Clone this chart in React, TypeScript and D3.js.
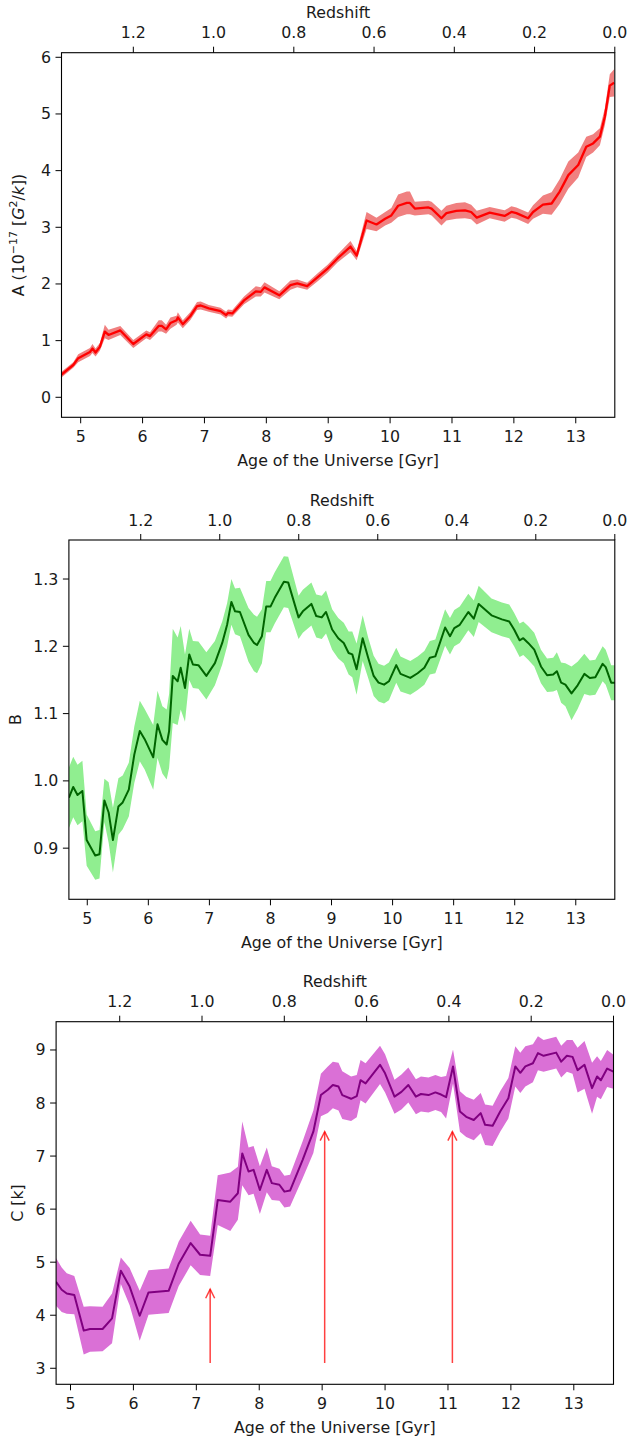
import React from "react";
import * as d3 from "d3";

// ---------- shared ticks ----------
const ageTicks = [5, 6, 7, 8, 9, 10, 11, 12, 13];
const redshiftTicks = [1.2, 1.0, 0.8, 0.6, 0.4, 0.2, 0.0];
const yTicksA = [0, 1, 2, 3, 4, 5, 6];
const yTicksB = [0.9, 1.0, 1.1, 1.2, 1.3];
const yTicksC = [3, 4, 5, 6, 7, 8, 9];

// ---------- panel A ----------
const ageA = [4.69, 4.88, 4.96, 5.15, 5.19, 5.24, 5.31, 5.39, 5.45, 5.64, 5.85, 6.06, 6.12, 6.26, 6.31, 6.38, 6.45, 6.55, 6.57, 6.65, 6.77, 6.88, 6.94, 7.07, 7.26, 7.35, 7.38, 7.45, 7.64, 7.83, 7.91, 7.97, 8.21, 8.39, 8.5, 8.66, 8.83, 8.99, 9.15, 9.36, 9.46, 9.62, 9.78, 9.92, 10.02, 10.13, 10.27, 10.32, 10.4, 10.62, 10.67, 10.83, 10.91, 11.07, 11.21, 11.31, 11.4, 11.61, 11.85, 11.96, 12.04, 12.23, 12.31, 12.47, 12.61, 12.74, 12.88, 13.04, 13.17, 13.28, 13.39, 13.47, 13.55, 13.62];
const meanA = [0.4, 0.57, 0.69, 0.8, 0.86, 0.79, 0.89, 1.16, 1.1, 1.18, 0.94, 1.11, 1.08, 1.26, 1.26, 1.2, 1.31, 1.36, 1.41, 1.29, 1.43, 1.61, 1.62, 1.57, 1.52, 1.45, 1.49, 1.48, 1.71, 1.87, 1.86, 1.94, 1.8, 1.98, 2.01, 1.96, 2.12, 2.27, 2.45, 2.66, 2.5, 3.12, 3.05, 3.15, 3.21, 3.38, 3.43, 3.43, 3.33, 3.35, 3.33, 3.16, 3.25, 3.29, 3.3, 3.27, 3.17, 3.26, 3.2, 3.27, 3.25, 3.16, 3.27, 3.4, 3.42, 3.63, 3.92, 4.1, 4.42, 4.48, 4.6, 4.95, 5.5, 5.55];
const errA = [0.05, 0.05, 0.07, 0.07, 0.08, 0.07, 0.07, 0.12, 0.09, 0.08, 0.07, 0.07, 0.07, 0.1, 0.1, 0.08, 0.1, 0.08, 0.09, 0.07, 0.07, 0.07, 0.07, 0.06, 0.06, 0.06, 0.06, 0.06, 0.07, 0.09, 0.08, 0.09, 0.07, 0.08, 0.07, 0.06, 0.07, 0.07, 0.07, 0.1, 0.08, 0.15, 0.12, 0.12, 0.13, 0.2, 0.2, 0.2, 0.12, 0.12, 0.12, 0.13, 0.13, 0.14, 0.14, 0.13, 0.12, 0.1, 0.1, 0.1, 0.1, 0.1, 0.12, 0.16, 0.2, 0.22, 0.24, 0.22, 0.18, 0.16, 0.15, 0.15, 0.2, 0.24];

// ---------- panel B ----------
const ageB = [4.7, 4.77, 4.84, 4.92, 4.99, 5.13, 5.2, 5.28, 5.35, 5.42, 5.51, 5.58, 5.68, 5.77, 5.86, 5.94, 6.08, 6.15, 6.23, 6.3, 6.34, 6.4, 6.48, 6.53, 6.6, 6.67, 6.73, 6.82, 6.95, 7.09, 7.21, 7.29, 7.36, 7.42, 7.5, 7.64, 7.73, 7.78, 7.86, 7.93, 8.0, 8.07, 8.22, 8.29, 8.46, 8.53, 8.67, 8.75, 8.84, 8.91, 9.01, 9.11, 9.2, 9.28, 9.34, 9.41, 9.51, 9.6, 9.69, 9.77, 9.86, 9.94, 10.06, 10.13, 10.29, 10.41, 10.52, 10.61, 10.7, 10.86, 10.94, 11.01, 11.1, 11.24, 11.33, 11.41, 11.62, 11.79, 11.91, 11.99, 12.08, 12.14, 12.22, 12.32, 12.43, 12.53, 12.63, 12.69, 12.76, 12.83, 12.93, 13.03, 13.14, 13.23, 13.32, 13.44, 13.49, 13.58, 13.64];
const meanB = [0.975, 0.991, 0.979, 0.985, 0.912, 0.889, 0.891, 0.971, 0.953, 0.912, 0.962, 0.968, 0.987, 1.039, 1.074, 1.062, 1.035, 1.084, 1.061, 1.054, 1.074, 1.156, 1.148, 1.168, 1.138, 1.188, 1.173, 1.172, 1.156, 1.175, 1.205, 1.232, 1.266, 1.252, 1.251, 1.217, 1.205, 1.202, 1.215, 1.259, 1.259, 1.272, 1.296, 1.295, 1.243, 1.252, 1.263, 1.245, 1.243, 1.251, 1.225, 1.212, 1.205, 1.19, 1.188, 1.166, 1.212, 1.183, 1.156, 1.146, 1.143, 1.148, 1.172, 1.159, 1.153, 1.16, 1.168, 1.183, 1.185, 1.228, 1.215, 1.227, 1.232, 1.251, 1.241, 1.263, 1.246, 1.24, 1.237, 1.225, 1.209, 1.212, 1.205, 1.195, 1.17, 1.157, 1.158, 1.163, 1.146, 1.143, 1.13, 1.142, 1.159, 1.153, 1.154, 1.174, 1.169, 1.146, 1.146];
const errB = [0.045, 0.045, 0.045, 0.045, 0.038, 0.036, 0.036, 0.032, 0.045, 0.048, 0.042, 0.04, 0.04, 0.042, 0.045, 0.045, 0.048, 0.05, 0.05, 0.052, 0.055, 0.07, 0.065, 0.062, 0.05, 0.038, 0.035, 0.035, 0.035, 0.033, 0.032, 0.032, 0.034, 0.034, 0.036, 0.04, 0.042, 0.042, 0.04, 0.038, 0.038, 0.038, 0.038, 0.038, 0.032, 0.032, 0.032, 0.032, 0.032, 0.032, 0.03, 0.03, 0.03, 0.032, 0.034, 0.038, 0.034, 0.03, 0.03, 0.028, 0.028, 0.028, 0.026, 0.026, 0.025, 0.025, 0.025, 0.025, 0.025, 0.027, 0.027, 0.027, 0.027, 0.027, 0.027, 0.027, 0.025, 0.025, 0.025, 0.025, 0.025, 0.025, 0.025, 0.025, 0.025, 0.025, 0.025, 0.028, 0.03, 0.032, 0.04, 0.035, 0.03, 0.026, 0.026, 0.026, 0.026, 0.026, 0.026];

// ---------- panel C ----------
const ageC = [4.77, 4.86, 4.94, 5.06, 5.21, 5.31, 5.51, 5.66, 5.8, 5.94, 6.1, 6.24, 6.56, 6.72, 6.91, 7.06, 7.22, 7.34, 7.54, 7.66, 7.73, 7.83, 7.91, 8.01, 8.12, 8.2, 8.32, 8.4, 8.49, 8.69, 8.86, 8.98, 9.09, 9.17, 9.26, 9.32, 9.46, 9.55, 9.61, 9.69, 9.92, 10.0, 10.15, 10.26, 10.37, 10.49, 10.57, 10.69, 10.8, 10.89, 10.97, 11.08, 11.19, 11.29, 11.41, 11.52, 11.59, 11.71, 11.83, 11.96, 12.07, 12.15, 12.23, 12.35, 12.43, 12.52, 12.72, 12.8, 12.89, 12.98, 13.06, 13.17, 13.29, 13.37, 13.43, 13.53, 13.63];
const meanC = [4.63, 4.48, 4.41, 4.38, 3.71, 3.74, 3.74, 3.94, 4.84, 4.54, 3.99, 4.43, 4.46, 4.97, 5.36, 5.14, 5.12, 6.17, 6.14, 6.3, 7.05, 6.71, 6.74, 6.36, 6.74, 6.49, 6.46, 6.33, 6.35, 6.93, 7.46, 8.15, 8.25, 8.34, 8.31, 8.15, 8.08, 8.13, 8.43, 8.37, 8.72, 8.56, 8.12, 8.21, 8.34, 8.12, 8.17, 8.15, 8.2, 8.16, 8.11, 8.69, 7.84, 7.74, 7.68, 7.81, 7.59, 7.57, 7.84, 8.09, 8.69, 8.57, 8.69, 8.75, 8.94, 8.89, 8.95, 8.78, 8.89, 8.87, 8.62, 8.72, 8.28, 8.5, 8.43, 8.65, 8.59];
const errC = [0.45, 0.42, 0.38, 0.36, 0.45, 0.43, 0.42, 0.47, 0.25, 0.35, 0.47, 0.42, 0.42, 0.42, 0.42, 0.38, 0.38, 0.47, 0.55, 0.5, 0.6, 0.45, 0.45, 0.45, 0.42, 0.32, 0.3, 0.3, 0.3, 0.35, 0.4, 0.4, 0.44, 0.44, 0.45, 0.45, 0.42, 0.4, 0.38, 0.38, 0.36, 0.36, 0.32, 0.33, 0.33, 0.33, 0.33, 0.33, 0.33, 0.33, 0.4, 0.32, 0.38, 0.38, 0.38, 0.38, 0.38, 0.38, 0.38, 0.38, 0.38, 0.38, 0.38, 0.36, 0.32, 0.3, 0.3, 0.3, 0.3, 0.32, 0.42, 0.45, 0.48, 0.38, 0.36, 0.35, 0.32];

// arrows in panel C
const arrowAges = [7.22, 9.04, 11.07];
const arrowTips = [4.49, 7.46, 7.46];
const arrowBase = 3.1;

const FONT = "DejaVu Sans";
const FS = 15.8;
const TXT = "#1a1a1a";

type PanelProps = {
  id: string;
  box: { left: number; right: number; top: number; bottom: number };
  xDom: [number, number];
  yDom: [number, number];
  zLeft: number;
  yTicks: number[];
  yFmt: (v: number) => string;
  ages: number[];
  mean: number[];
  err: number[];
  lineColor: string;
  lineWidth: number;
  fillColor: string;
  ylabel: React.ReactNode;
  ylabelX: number;
  arrows?: boolean;
};

function Panel(p: PanelProps) {
  const { box } = p;
  const x = d3.scaleLinear().domain(p.xDom).range([box.left, box.right]);
  const y = d3.scaleLinear().domain(p.yDom).range([box.bottom, box.top]);
  const z = d3.scaleLinear().domain([p.zLeft, 0]).range([box.left, box.right]);
  const idx = d3.range(p.ages.length);
  const area = d3
    .area<number>()
    .x((i) => x(p.ages[i]))
    .y0((i) => y(p.mean[i] - p.err[i]))
    .y1((i) => y(p.mean[i] + p.err[i]));
  const line = d3
    .line<number>()
    .x((i) => x(p.ages[i]))
    .y((i) => y(p.mean[i]));
  const tl = 6;
  const cx = (box.left + box.right) / 2;
  const cy = (box.top + box.bottom) / 2;
  const fz = d3.format(".1f");
  return (
    <g fontFamily={FONT} fontSize={FS} fill={TXT}>
      <defs>
        <clipPath id={"clip" + p.id}>
          <rect x={box.left} y={box.top} width={box.right - box.left} height={box.bottom - box.top} />
        </clipPath>
      </defs>
      <g clipPath={`url(#clip${p.id})`}>
        <path d={area(idx) || ""} fill={p.fillColor} stroke="none" />
        <path d={line(idx) || ""} fill="none" stroke={p.lineColor} strokeWidth={p.lineWidth} strokeLinejoin="round" />
      </g>
      {p.arrows &&
        arrowAges.map((a, i) => {
          const ax = x(a);
          const yb = y(arrowBase);
          const yt = y(arrowTips[i]);
          return (
            <g key={i} stroke="#ff0000" strokeOpacity={0.75} strokeWidth={1.5} fill="none">
              <line x1={ax} x2={ax} y1={yb} y2={yt} />
              <polyline points={`${ax - 4.5},${yt + 9} ${ax},${yt} ${ax + 4.5},${yt + 9}`} strokeLinejoin="miter" />
            </g>
          );
        })}
      <rect x={box.left} y={box.top} width={box.right - box.left} height={box.bottom - box.top} fill="none" stroke="#000" strokeWidth={1.1} />
      {/* bottom age axis */}
      {ageTicks.map((t) => (
        <g key={"ax" + t}>
          <line x1={x(t)} x2={x(t)} y1={box.bottom} y2={box.bottom + tl} stroke="#000" strokeWidth={1} />
          <text x={x(t)} y={box.bottom + 19.5} textAnchor="middle" dominantBaseline="central">
            {t}
          </text>
        </g>
      ))}
      <text x={cx} y={box.bottom + 43.5} textAnchor="middle" dominantBaseline="central">
        Age of the Universe [Gyr]
      </text>
      {/* top redshift axis */}
      {redshiftTicks.map((t) => (
        <g key={"z" + t}>
          <line x1={z(t)} x2={z(t)} y1={box.top} y2={box.top - tl} stroke="#000" strokeWidth={1} />
          <text x={z(t)} y={box.top - 20} textAnchor="middle" dominantBaseline="central">
            {fz(t)}
          </text>
        </g>
      ))}
      <text x={cx} y={box.top - 40} textAnchor="middle" dominantBaseline="central">
        Redshift
      </text>
      {/* y axis */}
      {p.yTicks.map((t) => (
        <g key={"y" + t}>
          <line x1={box.left} x2={box.left - tl} y1={y(t)} y2={y(t)} stroke="#000" strokeWidth={1} />
          <text x={box.left - 10.5} y={y(t)} textAnchor="end" dominantBaseline="central">
            {p.yFmt(t)}
          </text>
        </g>
      ))}
      <text
        x={p.ylabelX}
        y={cy}
        textAnchor="middle"
        dominantBaseline="central"
        transform={`rotate(-90, ${p.ylabelX}, ${cy})`}
      >
        {p.ylabel}
      </text>
    </g>
  );
}

export default function App() {
  const fInt = d3.format("d");
  const f1 = d3.format(".1f");
  const labelA = (
    <>
      <tspan>A (10</tspan>
      <tspan dy={-5.5} fontSize={11}>−17</tspan>
      <tspan dy={5.5}> [</tspan>
      <tspan fontStyle="italic">G</tspan>
      <tspan dy={-5.5} fontSize={11}>2</tspan>
      <tspan dy={5.5}>/</tspan>
      <tspan fontStyle="italic">k</tspan>
      <tspan>])</tspan>
    </>
  );
  return (
    <svg
      width={640}
      height={1439}
      style={{ position: "absolute", left: 0, top: 0, background: "#fff" }}
    >
      <rect x={0} y={0} width={640} height={1439} fill="#fff" />
      <Panel
        id="A"
        box={{ left: 61.5, right: 614.8, top: 52.7, bottom: 417.3 }}
        xDom={[4.69, 13.631]}
        yDom={[-0.353, 6.081]}
        zLeft={1.379}
        yTicks={yTicksA}
        yFmt={fInt}
        ages={ageA}
        mean={meanA}
        err={errA}
        lineColor="#ff0000"
        lineWidth={2.3}
        fillColor="#f08080"
        ylabel={labelA}
        ylabelX={18}
      />
      <Panel
        id="B"
        box={{ left: 68.9, right: 614.8, top: 540, bottom: 899.3 }}
        xDom={[4.699, 13.639]}
        yDom={[0.824, 1.358]}
        zLeft={1.3818}
        yTicks={yTicksB}
        yFmt={f1}
        ages={ageB}
        mean={meanB}
        err={errB}
        lineColor="#006400"
        lineWidth={2}
        fillColor="#90ee90"
        ylabel={"B"}
        ylabelX={16}
      />
      <Panel
        id="C"
        box={{ left: 56.1, right: 613.5, top: 1021.7, bottom: 1384.3 }}
        xDom={[4.771, 13.631]}
        yDom={[2.698, 9.533]}
        zLeft={1.3546}
        yTicks={yTicksC}
        yFmt={fInt}
        ages={ageC}
        mean={meanC}
        err={errC}
        lineColor="#800080"
        lineWidth={2}
        fillColor="#da70d6"
        ylabel={"C [k]"}
        ylabelX={17.5}
        arrows
      />
    </svg>
  );
}
